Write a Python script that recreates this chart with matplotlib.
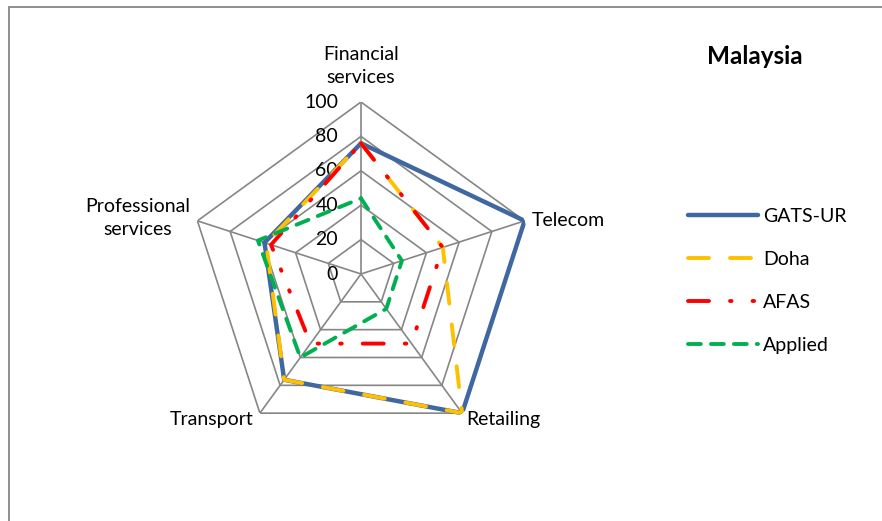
import numpy as np
import matplotlib
matplotlib.use("Agg")
import matplotlib.pyplot as plt
from matplotlib.patches import Rectangle

# Données
categories = ["Financial\nservices", "Telecom", "Retailing", "Transport", "Professional\nservices"]
gats_ur = [76, 100, 100, 76, 59]
doha = [76, 50, 100, 76, 58]
afas = [76, 50, 50, 50, 55]
applied = [44, 25, 25, 60, 63]
anneaux = [0, 20, 40, 60, 80, 100]

plt.rcParams['font.family'] = ['Lato', 'DejaVu Sans']
gris = '#868686'

W, H = 882, 521
fig = plt.figure(figsize=(W / 100, H / 100), dpi=100)

# cadre gris (coupé à droite et en bas)
fig.patches.append(Rectangle((9 / W, -0.1), 1.2, 1 - 7 / H + 0.1, transform=fig.transFigure,
                             fill=False, edgecolor=gris, linewidth=1.3))

cx, cy, R = 361, 274, 172
ax = fig.add_axes([(cx - R) / W, (H - cy - R) / H, 2 * R / W, 2 * R / H], projection='polar')
ax.set_theta_offset(np.pi / 2)
ax.set_theta_direction(-1)
ax.set_ylim(0, 100)
ax.axis('off')

n = len(categories)
angles = np.linspace(0, 2 * np.pi, n, endpoint=False)
angles_ferme = np.append(angles, angles[0])

# grille pentagonale
for r in anneaux[1:]:
    ax.plot(angles_ferme, [r] * (n + 1), color=gris, lw=1.2, zorder=1)
for a in angles:
    ax.plot([a, a], [0, 100], color=gris, lw=1.2, zorder=1)

# graduations
for r in anneaux:
    ax.annotate(str(r), xy=(0, r), xytext=(-23, 0), textcoords='offset pixels',
                ha='right', va='center', fontsize=14, zorder=2)

# étiquettes des axes
decalages = [(0, 36, 'center'), (7, 0, 'left'), (4, -6, 'left'), (-6, -6, 'right'), (-60, 3, 'center')]
for a, lab, (dx, dy, ha) in zip(angles, categories, decalages):
    ax.annotate(lab, xy=(a, 100), xytext=(dx, dy), textcoords='offset pixels',
                ha=ha, va='center', fontsize=14, multialignment='center', linespacing=1.45)

def ferme(v):
    return v + v[:1]

ax.plot(angles_ferme, ferme(gats_ur), color='#3F68A0', lw=3.2, label='GATS-UR', zorder=3,
        solid_joinstyle='round', solid_capstyle='round')
ax.plot(angles_ferme, ferme(doha), color='#FFC000', lw=2.8, label='Doha', zorder=4,
        dashes=(5.4, 5.4), dash_capstyle='round')
ax.plot(angles_ferme, ferme(afas), color='#FF0000', lw=2.8, label='AFAS', zorder=5,
        dashes=(5.4, 5.4, 0.4, 5.4, 0.4, 5.4), dash_capstyle='round')
ax.plot(angles_ferme, ferme(applied), color='#00B050', lw=2.8, label='Applied', zorder=6,
        dashes=(3.3, 2.6), dash_capstyle='round')

fig.text(755 / W, 1 - 57 / H, 'Malaysia', ha='center', va='center', fontsize=17.5, fontweight='bold')

fig.legend(loc='upper left', bbox_to_anchor=(670 / W, 1 - 190 / H), frameon=False,
           fontsize=14, handlelength=3.6, handletextpad=0.3, labelspacing=1.35)

fig.savefig('out.png', dpi=100)
